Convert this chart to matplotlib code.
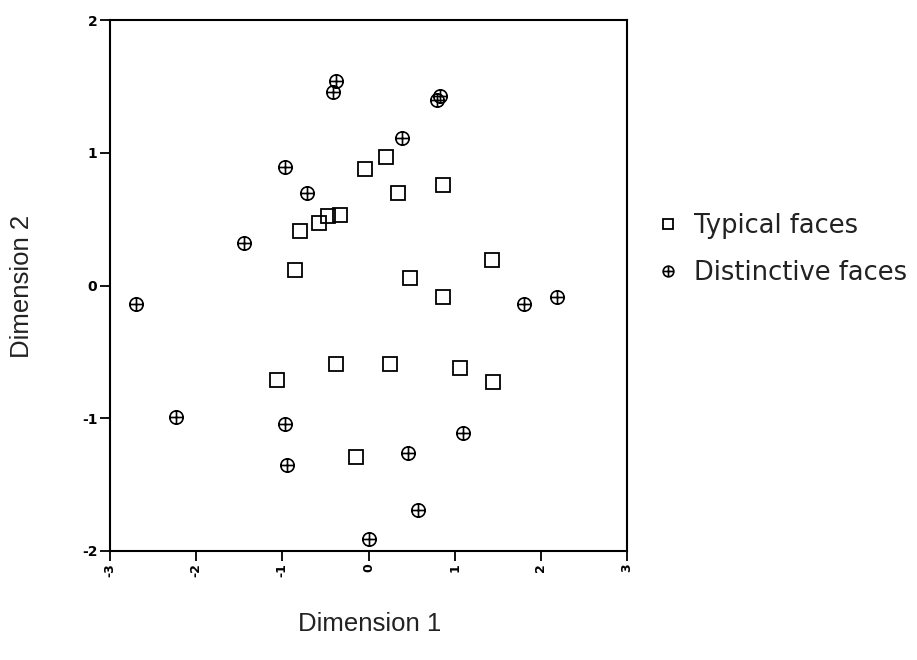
import matplotlib
matplotlib.use("Agg")
import matplotlib.pyplot as plt
from matplotlib.path import Path

# ---- data ----
typical_x = [-0.04, 0.20, 0.34, 0.86, -0.80, -0.57, -0.47, -0.33, -0.85, 1.43,
             0.48, 0.86, -1.06, -0.38, 0.25, 1.06, 1.45, -0.15]
typical_y = [0.88, 0.97, 0.70, 0.76, 0.41, 0.47, 0.52, 0.53, 0.12, 0.19,
             0.06, -0.09, -0.71, -0.59, -0.59, -0.62, -0.73, -1.29]

distinct_x = [-0.38, -0.41, 0.79, 0.83, 0.39, -0.97, -0.71, -1.44, -2.70, 1.80,
              2.19, -2.23, -0.97, -0.95, 0.46, 1.10, 0.58, 0.00]
distinct_y = [1.54, 1.46, 1.40, 1.43, 1.11, 0.89, 0.70, 0.32, -0.14, -0.14,
              -0.09, -0.99, -1.04, -1.35, -1.26, -1.11, -1.69, -1.91]

x_ticks = [-3, -2, -1, 0, 1, 2, 3]
y_ticks = [-2, -1, 0, 1, 2]
series_labels = ["Typical faces", "Distinctive faces"]
x_label = "Dimension 1"
y_label = "Dimension 2"

# circle-with-cross marker
circle = Path.unit_circle()
cross = Path([(-1, 0), (1, 0), (0, -1), (0, 1)],
             [Path.MOVETO, Path.LINETO, Path.MOVETO, Path.LINETO])
oplus = Path.make_compound_path(circle, cross)

# ---- figure ----
fig = plt.figure(figsize=(9.17, 6.6), dpi=100)
ax = fig.add_axes([110 / 917, 1 - 551 / 660, 517 / 917, 531 / 660])

ms = 9.6
sq, = ax.plot(typical_x, typical_y, linestyle="none", marker="s", ms=ms,
              mfc="none", mec="black", mew=1.3)
op, = ax.plot(distinct_x, distinct_y, linestyle="none", marker=oplus, ms=ms,
              mfc="none", mec="black", mew=1.2)

ax.set_xlim(-3, 3)
ax.set_ylim(-2, 2)
ax.set_xticks(x_ticks)
ax.set_yticks(y_ticks)
ax.set_xticklabels([str(t) for t in x_ticks], rotation=90, fontsize=9,
                   fontweight="bold", family="DejaVu Sans")
ax.set_yticklabels([str(t) for t in y_ticks], fontsize=10, fontweight="bold",
                   family="DejaVu Sans")
ax.tick_params(direction="out", length=7, width=1.3, pad=2, colors="black")
for s in ax.spines.values():
    s.set_linewidth(1.5)
    s.set_color("black")

fig.text(370 / 917, 1 - 624 / 660, x_label, ha="center", va="center",
         fontsize=18.5, family="Liberation Sans", color="#222222")
fig.text(22 / 917, 1 - 286 / 660, y_label, ha="center", va="center",
         rotation=90, fontsize=18.5, family="Liberation Sans", color="#222222")

leg = fig.legend([sq, op], series_labels,
                 loc="center left", bbox_to_anchor=(658 / 917, 1 - 249.7 / 660),
                 frameon=False, handlelength=0.8,
                 handletextpad=0.6, borderpad=0, borderaxespad=0,
                 labelspacing=0.8, markerscale=0.8,
                 prop={"family": "DejaVu Sans", "size": 18.5})
for t in leg.get_texts():
    t.set_color("#222222")

fig.savefig("out.png", dpi=100, facecolor="white")
